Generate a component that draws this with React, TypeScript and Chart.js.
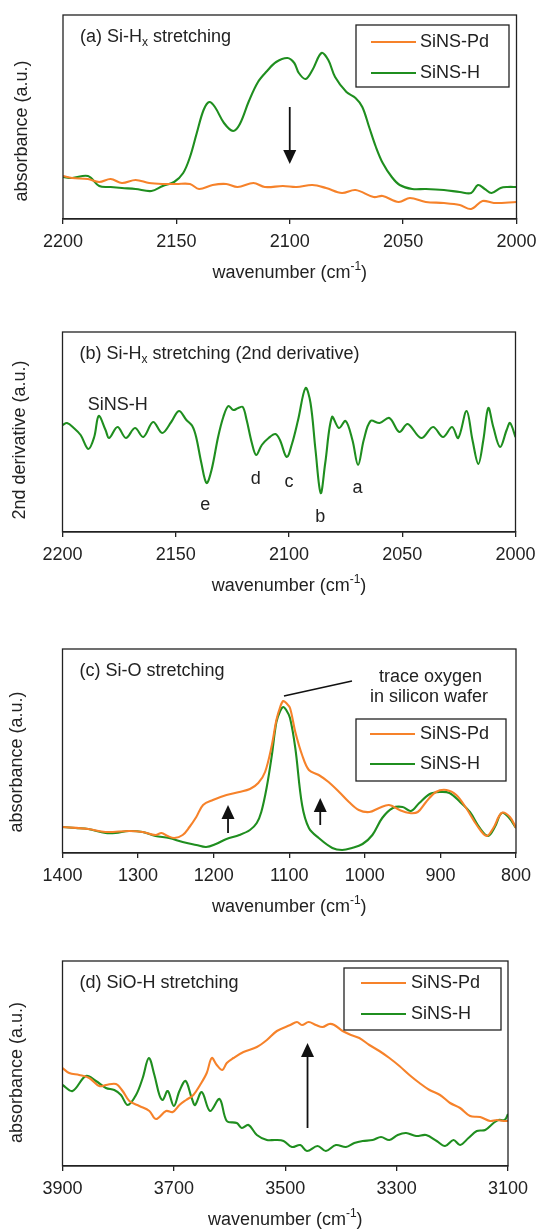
import React, { useEffect, useRef } from 'react';
import { Chart, registerables } from 'chart.js';

Chart.register(...registerables);

const ORANGE = '#F6822A';
const GREEN = '#1F8E1F';
const INK = '#222222';
const FONT = '"Liberation Sans", Arial, Helvetica, sans-serif';

// ---------- Panel (a): Si-Hx stretching ----------
const A_TICKS = [2200, 2150, 2100, 2050, 2000];
const A_PD_WN = [2200, 2196, 2189, 2184, 2179, 2174, 2168, 2162, 2156, 2150, 2144, 2140, 2134, 2128, 2123, 2116, 2111, 2103, 2097, 2090, 2084, 2077, 2071, 2063, 2059, 2052, 2047, 2040, 2032, 2025, 2020, 2015, 2010, 2000];
const A_PD = [43, 41, 40, 37, 40, 36, 39, 36, 35, 35, 35, 30, 34, 35, 32, 36, 32, 33, 32, 34, 31, 26, 29, 22, 23, 17, 21, 17, 16, 14, 10, 18, 16, 17];
const A_H_WN = [2200, 2196, 2189, 2184, 2179, 2174, 2168, 2161, 2156, 2151, 2147, 2144, 2141, 2138, 2135.5, 2133, 2129, 2125, 2122, 2118, 2114, 2110, 2106, 2101, 2098, 2096, 2093, 2090, 2086, 2083, 2080, 2075, 2071, 2068, 2065, 2062, 2059, 2055, 2051.5, 2046, 2040, 2032, 2025, 2020, 2017, 2014, 2011, 2007, 2004, 2000];
const A_H = [42, 41, 43, 33, 32, 31, 30, 28, 33, 37, 46, 62, 86, 109, 117, 112, 96, 88, 95, 118, 137, 148, 157, 161, 156, 146, 140, 149, 166, 159, 142, 127, 121, 112, 92, 72, 56, 42, 34, 30, 30, 29, 27, 26, 34, 30, 26, 31, 32, 32];

// ---------- Panel (b): 2nd derivative ----------
const B_TICKS = [2200, 2150, 2100, 2050, 2000];
const B_H_WN = [2200, 2198, 2195, 2192, 2188.6, 2186, 2184, 2181, 2179.4, 2175.7, 2172, 2168, 2164.3, 2160, 2156, 2152, 2148.6, 2145.3, 2142.7, 2141, 2138.7, 2136.4, 2134.2, 2131.3, 2129, 2126.8, 2124.6, 2122.4, 2120.4, 2118.7, 2116.4, 2114.5, 2112, 2109, 2106, 2104, 2101, 2098.7, 2096, 2092.7, 2090.5, 2088.3, 2086, 2084, 2081, 2078, 2075, 2072, 2069.5, 2067, 2064, 2060, 2055.7, 2051.3, 2047.6, 2041.6, 2036.4, 2032, 2028, 2025.3, 2021.6, 2019, 2016.4, 2014.2, 2012, 2009.8, 2006.8, 2003.9, 2002.4, 2000];
const B_H = [107, 109, 104, 97, 83, 95, 116, 102, 94, 105, 94, 104, 95, 110, 99, 110, 121, 112, 106, 95, 69, 49, 62, 95, 115, 126, 122, 124, 125, 112, 89, 77, 87, 94, 98, 92, 75, 88, 112, 144, 129, 82, 39, 69, 115, 104, 111, 92, 67, 92, 111, 109, 114, 100, 108, 94, 105, 95, 105, 94, 121, 92, 68, 92, 124, 105, 85, 102, 109, 95];
const B_PEAK_LABELS = ['e', 'd', 'c', 'b', 'a'];
const B_PEAK_WN = [2137, 2114.7, 2100, 2086.2, 2069.8];
const B_PEAK_Y = [27, 53, 50, 15, 44];

// ---------- Panel (c): Si-O stretching ----------
const C_TICKS = [1400, 1300, 1200, 1100, 1000, 900, 800];
const C_PD_WN = [1400, 1366, 1343, 1312, 1294, 1277, 1269, 1261, 1252, 1241, 1232, 1223, 1214, 1201, 1183, 1166, 1152, 1141, 1132, 1123, 1117, 1112, 1108, 1104, 1099, 1092, 1083, 1074, 1061, 1048, 1034, 1021, 1008, 994, 981, 968, 954, 941, 930, 919, 906, 892, 879, 866, 852, 839, 830, 819, 808, 800];
const C_PD = [26, 24, 21, 22, 21, 18, 20, 17, 15, 18, 26, 36, 48, 53, 58, 61, 64, 70, 81, 108, 133, 146, 152, 150, 145, 121, 98, 83, 78, 71, 61, 51, 43, 41, 45, 48, 43, 40, 41, 51, 61, 63, 58, 45, 28, 17, 25, 40, 36, 25];
const C_H_WN = [1400, 1383, 1366, 1343, 1330, 1312, 1294, 1277, 1259, 1241, 1223, 1210, 1197, 1183, 1166, 1152, 1143, 1137, 1130, 1123, 1117, 1112, 1108, 1104, 1099, 1092, 1083, 1074, 1061, 1043, 1030, 1017, 1003, 990, 977, 963, 950, 939, 928, 914, 901, 888, 874, 861, 848, 837, 828, 819, 810, 800];
const C_H = [26, 25, 24, 20, 20, 22, 21, 17, 15, 11, 8, 6, 9, 14, 18, 23, 30, 41, 65, 98, 131, 142, 146, 143, 135, 105, 48, 25, 15, 5, 3, 5, 9, 18, 35, 45, 46, 42, 50, 59, 61, 60, 51, 41, 25, 17, 26, 40, 36, 25];

// ---------- Panel (d): SiO-H stretching ----------
const D_TICKS = [3900, 3700, 3500, 3300, 3100];
const D_PD_WN = [3900, 3888, 3870, 3852, 3834, 3822, 3804, 3792, 3780, 3762, 3744, 3732, 3714, 3702, 3690, 3678, 3665, 3653, 3641, 3632, 3623, 3613, 3605, 3593, 3575, 3551, 3533, 3515, 3491, 3479, 3470, 3458, 3445, 3433, 3421, 3412, 3397, 3382, 3367, 3349, 3331, 3313, 3295, 3277, 3259, 3241, 3222, 3204, 3186, 3168, 3150, 3132, 3120, 3108, 3100];
const D_PD = [98, 93, 91, 88, 80, 81, 82, 75, 65, 60, 55, 47, 55, 54, 61, 66, 71, 81, 93, 108, 101, 96, 103, 108, 114, 119, 126, 135, 141, 144, 141, 144, 141, 139, 142, 141, 135, 131, 128, 121, 115, 108, 100, 91, 83, 76, 71, 63, 58, 50, 49, 45, 46, 45, 45];
const D_H_WN = [3900, 3882, 3858, 3840, 3822, 3807, 3795, 3783, 3768, 3756, 3745, 3735, 3726, 3720, 3711, 3700, 3690, 3679, 3668, 3662, 3650, 3635, 3618, 3605, 3587, 3578, 3566, 3551, 3533, 3518, 3503, 3488, 3473, 3461, 3442, 3427, 3409, 3391, 3376, 3361, 3343, 3328, 3313, 3298, 3283, 3265, 3247, 3228, 3213, 3198, 3186, 3171, 3156, 3141, 3126, 3117, 3106, 3100];
const D_H = [81, 75, 90, 85, 78, 76, 71, 61, 71, 88, 108, 91, 71, 66, 75, 60, 75, 85, 68, 61, 74, 55, 67, 45, 43, 38, 41, 31, 26, 26, 25, 19, 21, 15, 20, 15, 21, 19, 23, 25, 26, 29, 26, 31, 33, 30, 31, 25, 20, 26, 21, 28, 35, 36, 43, 46, 46, 52];

type Part = { t: string; sub?: boolean; sup?: boolean };

function drawRich(ctx: CanvasRenderingContext2D, parts: Part[], x: number, y: number, align: 'left' | 'center') {
  const big = `18px ${FONT}`;
  const small = `12px ${FONT}`;
  let w = 0;
  for (const p of parts) {
    ctx.font = p.sub || p.sup ? small : big;
    w += ctx.measureText(p.t).width;
  }
  let cx = align === 'center' ? x - w / 2 : x;
  ctx.textAlign = 'left';
  ctx.textBaseline = 'middle';
  ctx.fillStyle = INK;
  for (const p of parts) {
    ctx.font = p.sub || p.sup ? small : big;
    const dy = p.sub ? 6 : p.sup ? -6 : 0;
    ctx.fillText(p.t, cx, y + dy);
    cx += ctx.measureText(p.t).width;
  }
}

function drawArrow(ctx: CanvasRenderingContext2D, x: number, yTail: number, yTip: number) {
  const dir = Math.sign(yTip - yTail);
  const headLen = 14;
  const half = 6.5;
  ctx.save();
  ctx.strokeStyle = '#111';
  ctx.fillStyle = '#111';
  ctx.lineWidth = 1.8;
  ctx.beginPath();
  ctx.moveTo(x, yTail);
  ctx.lineTo(x, yTip - dir * headLen + dir * 1);
  ctx.stroke();
  ctx.beginPath();
  ctx.moveTo(x, yTip);
  ctx.lineTo(x - half, yTip - dir * headLen);
  ctx.lineTo(x + half, yTip - dir * headLen);
  ctx.closePath();
  ctx.fill();
  ctx.restore();
}

type Series = { label: string; wn: number[]; v: number[]; color: string };
type Legend = { box: [number, number, number, number]; rows: [number, number]; line: [number, number]; textX: number };
type PanelDef = {
  top: number;
  height: number;
  area: { l: number; r: number; t: number; b: number };
  xmin: number;
  xmax: number;
  ticks: number[];
  ymax: number;
  series: Series[];
  title: Part[];
  ytitle: string;
  ytitleX: number;
  ytitleDy: number;
  legend?: Legend;
  extra?: (ctx: CanvasRenderingContext2D, chart: any) => void;
};

const LEGEND_ITEMS = [
  { label: 'SiNS-Pd', color: ORANGE },
  { label: 'SiNS-H', color: GREEN },
];

const PANELS: PanelDef[] = [
  {
    top: 0,
    height: 300,
    area: { l: 63, r: 516.5, t: 15, b: 219 },
    xmin: 2000,
    xmax: 2200,
    ticks: A_TICKS,
    ymax: 204,
    series: [
      { label: 'SiNS-Pd', wn: A_PD_WN, v: A_PD, color: ORANGE },
      { label: 'SiNS-H', wn: A_H_WN, v: A_H, color: GREEN },
    ],
    title: [{ t: '(a) Si-H' }, { t: 'x', sub: true }, { t: ' stretching' }],
    ytitle: 'absorbance (a.u.)',
    ytitleX: 22,
    ytitleDy: 14,
    legend: { box: [356, 25, 509, 87], rows: [42, 73], line: [371, 416], textX: 420 },
    extra: (ctx, chart) => {
      const xs = chart.scales.x;
      const ys = chart.scales.y;
      drawArrow(ctx, xs.getPixelForValue(2100), ys.getPixelForValue(112), ys.getPixelForValue(55));
    },
  },
  {
    top: 300,
    height: 315,
    area: { l: 62.5, r: 515.5, t: 332, b: 532 },
    xmin: 2000,
    xmax: 2200,
    ticks: B_TICKS,
    ymax: 200,
    series: [{ label: 'SiNS-H', wn: B_H_WN, v: B_H, color: GREEN }],
    title: [{ t: '(b) Si-H' }, { t: 'x', sub: true }, { t: ' stretching (2nd derivative)' }],
    ytitle: '2nd derivative (a.u.)',
    ytitleX: 20,
    ytitleDy: 8,
    extra: (ctx, chart) => {
      const xs = chart.scales.x;
      const ys = chart.scales.y;
      drawRich(ctx, [{ t: 'SiNS-H' }], xs.getPixelForValue(2175.6), ys.getPixelForValue(127), 'center');
      B_PEAK_LABELS.forEach((l, i) => {
        drawRich(ctx, [{ t: l }], xs.getPixelForValue(B_PEAK_WN[i]), ys.getPixelForValue(B_PEAK_Y[i]), 'center');
      });
    },
  },
  {
    top: 615,
    height: 318,
    area: { l: 62.5, r: 516, t: 649, b: 853 },
    xmin: 800,
    xmax: 1400,
    ticks: C_TICKS,
    ymax: 204,
    series: [
      { label: 'SiNS-Pd', wn: C_PD_WN, v: C_PD, color: ORANGE },
      { label: 'SiNS-H', wn: C_H_WN, v: C_H, color: GREEN },
    ],
    title: [{ t: '(c) Si-O stretching' }],
    ytitle: 'absorbance (a.u.)',
    ytitleX: 17,
    ytitleDy: 11,
    legend: { box: [356, 719, 506, 781], rows: [734, 764], line: [370, 415], textX: 420 },
    extra: (ctx, chart) => {
      const xs = chart.scales.x;
      const ys = chart.scales.y;
      ctx.save();
      ctx.strokeStyle = '#111';
      ctx.lineWidth = 1.6;
      ctx.beginPath();
      ctx.moveTo(xs.getPixelForValue(1107), ys.getPixelForValue(157));
      ctx.lineTo(xs.getPixelForValue(1017), ys.getPixelForValue(172));
      ctx.stroke();
      ctx.restore();
      drawRich(ctx, [{ t: 'trace oxygen' }], xs.getPixelForValue(913), ys.getPixelForValue(176), 'center');
      drawRich(ctx, [{ t: 'in silicon wafer' }], xs.getPixelForValue(915), ys.getPixelForValue(156), 'center');
      drawArrow(ctx, xs.getPixelForValue(1181), ys.getPixelForValue(20), ys.getPixelForValue(48));
      drawArrow(ctx, xs.getPixelForValue(1059), ys.getPixelForValue(28), ys.getPixelForValue(55));
    },
  },
  {
    top: 933,
    height: 298,
    area: { l: 62.5, r: 508, t: 961, b: 1166 },
    xmin: 3100,
    xmax: 3900,
    ticks: D_TICKS,
    ymax: 205,
    series: [
      { label: 'SiNS-Pd', wn: D_PD_WN, v: D_PD, color: ORANGE },
      { label: 'SiNS-H', wn: D_H_WN, v: D_H, color: GREEN },
    ],
    title: [{ t: '(d) SiO-H stretching' }],
    ytitle: 'absorbance (a.u.)',
    ytitleX: 17,
    ytitleDy: 9,
    legend: { box: [344, 968, 501, 1030], rows: [983, 1014], line: [361, 406], textX: 411 },
    extra: (ctx, chart) => {
      const xs = chart.scales.x;
      const ys = chart.scales.y;
      drawArrow(ctx, xs.getPixelForValue(3460), ys.getPixelForValue(38), ys.getPixelForValue(123));
    },
  },
];

function PanelChart({ def }: { def: PanelDef }) {
  const ref = useRef<HTMLCanvasElement | null>(null);
  useEffect(() => {
    const canvas = ref.current;
    if (!canvas) return;
    const T = def.top;
    const overlay = {
      id: 'overlay',
      afterDraw(chart: any) {
        const ctx: CanvasRenderingContext2D = chart.ctx;
        const a = chart.chartArea;
        ctx.save();
        ctx.strokeStyle = INK;
        ctx.lineWidth = 1.3;
        ctx.strokeRect(a.left, a.top, a.right - a.left, a.bottom - a.top);
        drawRich(ctx, def.title, a.left + 17, a.top + 22, 'left');
        drawRich(ctx, [{ t: 'wavenumber (cm' }, { t: '-1', sup: true }, { t: ')' }], (a.left + a.right) / 2, a.bottom + 54, 'center');
        ctx.save();
        ctx.translate(def.ytitleX, (a.top + a.bottom) / 2 + def.ytitleDy);
        ctx.rotate(-Math.PI / 2);
        drawRich(ctx, [{ t: def.ytitle }], 0, 0, 'center');
        ctx.restore();
        if (def.legend) {
          const L = def.legend;
          const [x0, y0, x1, y1] = L.box;
          ctx.fillStyle = '#ffffff';
          ctx.fillRect(x0, y0 - T, x1 - x0, y1 - y0);
          ctx.strokeStyle = INK;
          ctx.lineWidth = 1.3;
          ctx.strokeRect(x0, y0 - T, x1 - x0, y1 - y0);
          LEGEND_ITEMS.forEach((it, i) => {
            const yy = L.rows[i] - T;
            ctx.strokeStyle = it.color;
            ctx.lineWidth = 2;
            ctx.beginPath();
            ctx.moveTo(L.line[0], yy);
            ctx.lineTo(L.line[1], yy);
            ctx.stroke();
            drawRich(ctx, [{ t: it.label }], L.textX, yy, 'left');
          });
        }
        if (def.extra) def.extra(ctx, chart);
        ctx.restore();
      },
    };
    const chart = new Chart(canvas, {
      type: 'line',
      data: {
        datasets: def.series.map((s) => ({
          label: s.label,
          data: s.wn.map((w, i) => ({ x: w, y: s.v[i] })),
          borderColor: s.color,
          borderWidth: 2.1,
          pointRadius: 0,
          tension: 0.35,
          fill: false,
        })),
      },
      options: {
        animation: false,
        responsive: false,
        maintainAspectRatio: false,
        devicePixelRatio: 1,
        layout: {
          padding: { left: def.area.l, right: 537 - def.area.r, top: def.area.t - T, bottom: 0 },
        },
        plugins: { legend: { display: false }, tooltip: { enabled: false } },
        scales: {
          x: {
            type: 'linear',
            reverse: true,
            min: def.xmin,
            max: def.xmax,
            afterBuildTicks: (scale: any) => {
              scale.ticks = def.ticks.map((v) => ({ value: v }));
            },
            afterFit: (scale: any) => {
              scale.height = def.height - (def.area.b - T);
              scale.paddingLeft = 0;
              scale.paddingRight = 0;
            },
            ticks: {
              callback: (v: any) => String(v),
              font: { family: FONT, size: 18 },
              color: INK,
              padding: 7,
              maxRotation: 0,
              autoSkip: false,
            },
            grid: { display: true, drawOnChartArea: false, drawTicks: true, tickLength: 5, color: INK, lineWidth: 1.3 },
            border: { display: true, color: INK, width: 1.3 },
          },
          y: { display: false, min: 0, max: def.ymax },
        },
      },
      plugins: [overlay],
    } as any);
    return () => chart.destroy();
  }, [def]);
  return (
    <canvas
      ref={ref}
      width={537}
      height={def.height}
      style={{ position: 'absolute', left: 0, top: def.top, width: 537, height: def.height }}
    />
  );
}

export default function App() {
  return (
    <div style={{ position: 'absolute', left: 0, top: 0, width: 537, height: 1231, background: '#fff', overflow: 'hidden' }}>
      {PANELS.map((p, i) => (
        <PanelChart key={i} def={p} />
      ))}
    </div>
  );
}
